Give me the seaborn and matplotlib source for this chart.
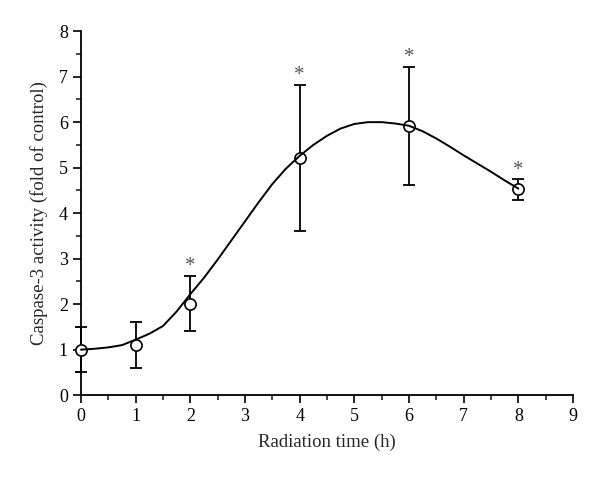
import matplotlib

matplotlib.use("Agg")

import matplotlib.pyplot as plt
import pandas as pd
import seaborn as sns

# measured points
time_h = [0, 1, 2, 4, 6, 8]
activity = [1.0, 1.1, 2.0, 5.22, 5.92, 4.52]
err_low = [0.5, 0.5, 0.6, 1.62, 1.30, 0.22]
err_high = [0.5, 0.5, 0.62, 1.60, 1.30, 0.22]
significant = [False, False, True, True, True, True]

# fitted curve
curve_x = [0, 0.25, 0.5, 0.75, 1.0, 1.25, 1.5, 1.75, 2.0, 2.25, 2.5, 2.75, 3.0,
           3.25, 3.5, 3.75, 4.0, 4.25, 4.5, 4.75, 5.0, 5.25, 5.5, 5.75, 6.0,
           6.25, 6.5, 6.75, 7.0, 7.25, 7.5, 7.75, 8.0]
curve_y = [1.00, 1.02, 1.05, 1.10, 1.22, 1.35, 1.52, 1.84, 2.22, 2.58, 2.98, 3.40, 3.82,
           4.24, 4.64, 4.98, 5.26, 5.50, 5.70, 5.86, 5.96, 6.00, 6.00, 5.97, 5.92,
           5.80, 5.64, 5.46, 5.27, 5.09, 4.91, 4.72, 4.54]

points = pd.DataFrame({"time": time_h, "activity": activity})
curve = pd.DataFrame({"time": curve_x, "activity": curve_y})

sns.set_theme(style="ticks")
plt.rcParams["font.family"] = ["Liberation Serif", "DejaVu Serif"]

fig = plt.figure(figsize=(6.0, 4.79), dpi=100)
ax = fig.add_axes([0.135, 0.175, 0.82, 0.76])

ax.errorbar(time_h, activity, yerr=[err_low, err_high], fmt="none", ecolor="black",
            elinewidth=1.3, capsize=4.5, capthick=1.3, zorder=2, clip_on=False)
sns.scatterplot(data=points, x="time", y="activity", ax=ax, s=65, marker="o",
                facecolor="white", edgecolor="black", linewidth=1.2, zorder=3, clip_on=False)
sns.lineplot(data=curve, x="time", y="activity", ax=ax, color="black", linewidth=1.4,
             zorder=4, clip_on=False)

for x, y, hi, sig in zip(time_h, activity, err_high, significant):
    if sig:
        ax.text(x, y + hi + 0.1, "*", ha="center", va="baseline", fontsize=15, color="#555555")

ax.set_xlim(0, 9)
ax.set_ylim(0, 8)
ax.set_xticks(range(0, 10))
ax.set_yticks(range(0, 9))
ax.set_xticks([i + 0.5 for i in range(9)], minor=True)
ax.set_yticks([i + 0.5 for i in range(8)], minor=True)
ax.tick_params(which="major", direction="out", length=6, width=1.2, labelsize=13, colors="black")
ax.tick_params(which="minor", direction="out", length=3.5, width=1.2)
ax.set_xlabel("Radiation time (h)", fontsize=13.5, labelpad=6)
ax.set_ylabel("Caspase-3 activity (fold of control)", fontsize=13.5, labelpad=8)
sns.despine(ax=ax)
for side in ("left", "bottom"):
    ax.spines[side].set_linewidth(1.3)
    ax.spines[side].set_color("black")

fig.savefig("out.png", dpi=100)
